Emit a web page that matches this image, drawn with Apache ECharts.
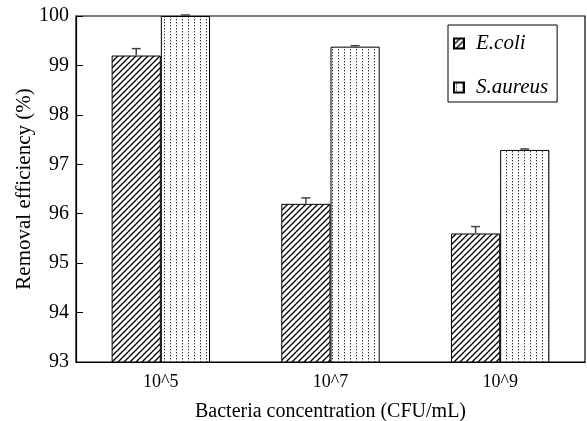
<!DOCTYPE html>
<html>
<head>
<meta charset="utf-8">
<script src="https://cdn.jsdelivr.net/npm/echarts@6/dist/echarts.min.js"></script>
<style>
  html, body { margin: 0; padding: 0; background: #fff; }
  #chart { width: 587px; height: 421px; }
</style>
</head>
<body>
<div id="chart"></div>
<script>
const categories = ['10^5', '10^7', '10^9']
const ecoli = [99.2, 96.2, 95.6]
const ecoliErr = [0.14, 0.12, 0.14]
const saureus = [100.0, 99.38, 97.29]
const saureusErr = [0.02, 0.02, 0.02]

const font = 'Liberation Serif'

// diagonal hatch tile
const makeHatch = () => {
  const c = document.createElement('canvas')
  c.width = 6
  c.height = 6
  const ctx = c.getContext('2d')
  ctx.fillStyle = '#fff'
  ctx.fillRect(0, 0, 6, 6)
  ctx.strokeStyle = '#000'
  ctx.lineWidth = 1.3
  ctx.beginPath()
  ctx.moveTo(0, 6); ctx.lineTo(6, 0)
  ctx.moveTo(-1, 1); ctx.lineTo(1, -1)
  ctx.moveTo(5, 7); ctx.lineTo(7, 5)
  ctx.stroke()
  return c
}

// dotted tile
const makeDots = () => {
  const c = document.createElement('canvas')
  c.width = 6
  c.height = 3
  const ctx = c.getContext('2d')
  ctx.fillStyle = '#fff'
  ctx.fillRect(0, 0, 6, 3)
  ctx.fillStyle = '#333'
  ctx.fillRect(2, 1, 1, 1.4)
  return c
}

const gapRatio = 0.42
const chart = echarts.init(document.getElementById('chart'))

const errorSeries = (vals, errs, side) => ({
  type: 'custom',
  clip: false,
  silent: true,
  z: 5,
  data: vals.map((v, i) => [i, v, v + errs[i]]),
  renderItem: (params, api) => {
    const band = api.size([1, 0])[0]
    const barW = band * (1 - gapRatio) / 2
    const base = api.coord([api.value(0), api.value(1)])
    const top = api.coord([api.value(0), api.value(2)])
    const x = base[0] + side * barW / 2
    const half = 4.5
    const style = { stroke: '#444', lineWidth: 1.5 }
    return {
      type: 'group',
      children: [
        { type: 'line', shape: { x1: x, y1: base[1], x2: x, y2: top[1] }, style },
        { type: 'line', shape: { x1: x - half, y1: top[1], x2: x + half, y2: top[1] }, style }
      ]
    }
  }
})

const option = {
  animation: false,
  backgroundColor: '#fff',
  textStyle: { fontFamily: font, color: '#000' },
  grid: {
    left: 76,
    right: 2,
    top: 16,
    bottom: 59,
    outerBoundsMode: 'none',
    show: true,
    borderColor: '#000',
    borderWidth: 1.2
  },
  legend: {
    orient: 'vertical',
    left: 448,
    top: 25,
    data: ['E.coli', 'S.aureus'],
    itemWidth: 10,
    itemHeight: 10,
    itemGap: 23,
    padding: [8, 9, 4, 5],
    borderColor: '#000',
    borderWidth: 1,
    icon: 'rect',
    textStyle: {
      fontFamily: font,
      fontSize: 21,
      fontStyle: 'italic',
      color: '#000',
      padding: [0, 0, 0, 7]
    }
  },
  xAxis: {
    type: 'category',
    data: categories,
    name: 'Bacteria concentration (CFU/mL)',
    nameLocation: 'middle',
    nameGap: 40,
    nameMoveOverlap: false,
    nameTextStyle: { fontFamily: font, fontSize: 20, color: '#000' },
    axisLine: { lineStyle: { color: '#000', width: 1.2 } },
    axisTick: { inside: true, length: 6, lineStyle: { color: '#000' } },
    axisLabel: { fontFamily: font, fontSize: 18, color: '#000', margin: 11 }
  },
  yAxis: {
    type: 'value',
    min: 93,
    max: 100,
    interval: 1,
    name: 'Removal efficiency (%)',
    nameLocation: 'middle',
    nameGap: 41,
    nameMoveOverlap: false,
    nameTextStyle: { fontFamily: font, fontSize: 21, color: '#000' },
    axisLine: { show: true, lineStyle: { color: '#000', width: 1.2 } },
    axisTick: { show: true, inside: true, length: 7, lineStyle: { color: '#000' } },
    axisLabel: { fontFamily: font, fontSize: 20, color: '#000', margin: 7 },
    splitLine: { show: false }
  },
  series: [
    {
      name: 'E.coli',
      type: 'bar',
      data: ecoli,
      barGap: '0%',
      barCategoryGap: (gapRatio * 100) + '%',
      itemStyle: {
        color: { image: makeHatch(), repeat: 'repeat' },
        borderColor: '#000',
        borderWidth: 1
      }
    },
    {
      name: 'S.aureus',
      type: 'bar',
      data: saureus,
      barGap: '0%',
      barCategoryGap: (gapRatio * 100) + '%',
      itemStyle: {
        color: { image: makeDots(), repeat: 'repeat' },
        borderColor: '#000',
        borderWidth: 1
      }
    },
    errorSeries(ecoli, ecoliErr, -1),
    errorSeries(saureus, saureusErr, 1)
  ]
}

chart.setOption(option)
</script>
</body>
</html>
